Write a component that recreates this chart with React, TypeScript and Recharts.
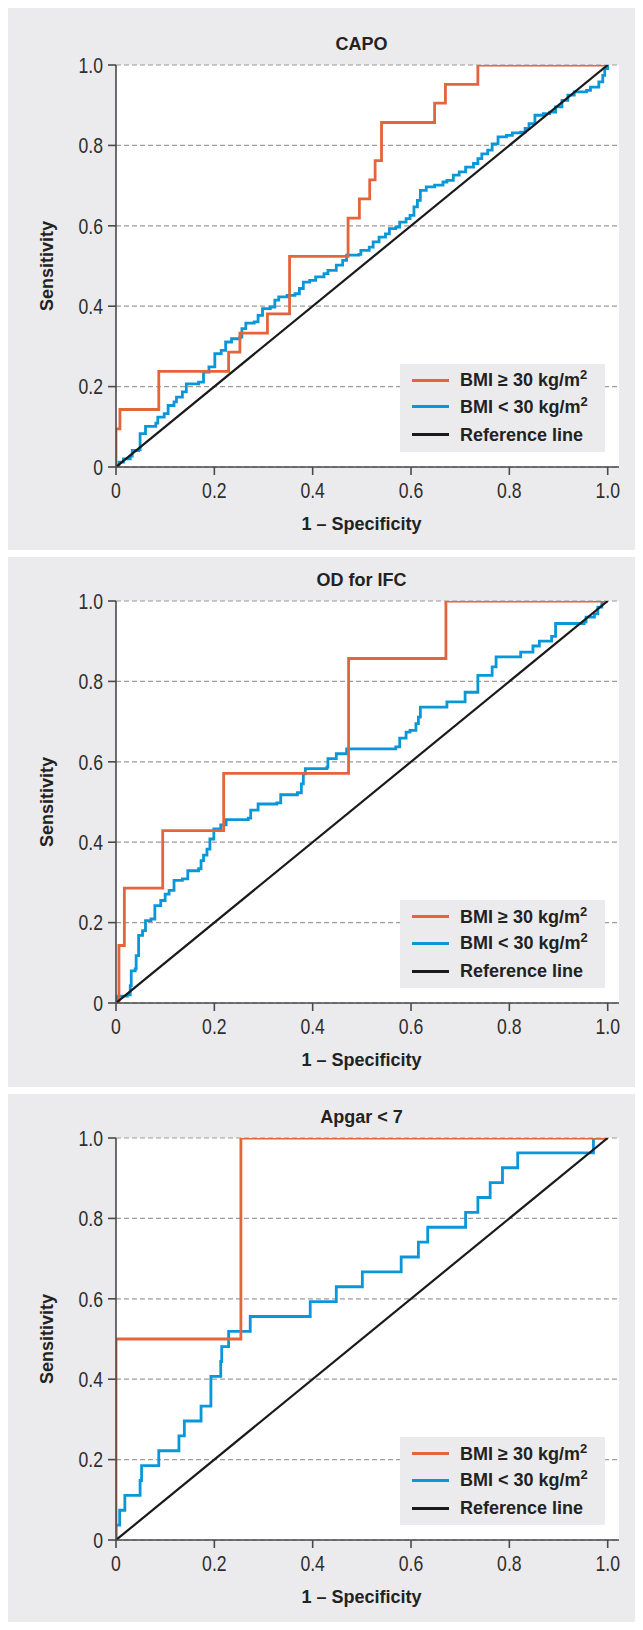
import React from 'react';
import { LineChart, Line, XAxis, YAxis, CartesianGrid } from 'recharts';

// ---------- data ----------
const axisTicks = [0, 0.2, 0.4, 0.6, 0.8, 1.0];
const seriesNames = ['BMI ≥ 30 kg/m²', 'BMI < 30 kg/m²', 'Reference line'];
const panelTitles = ['CAPO', 'OD for IFC', 'Apgar < 7'];
const xAxisTitle = '1 – Specificity';
const yAxisTitle = 'Sensitivity';

const refFpr = [0, 1];
const refTpr = [0, 1];

// CAPO
const capoHighFpr = [0, 0, 0.008, 0.087, 0.229, 0.252, 0.308, 0.353, 0.472, 0.495, 0.516, 0.527, 0.54, 0.648, 0.67, 0.736, 1];
const capoHighTpr = [0, 0.095, 0.143, 0.238, 0.286, 0.333, 0.381, 0.524, 0.619, 0.667, 0.714, 0.762, 0.857, 0.905, 0.952, 1, 1];
const capoLowFpr = [0, 0.006, 0.015, 0.029, 0.033, 0.046, 0.049, 0.06, 0.081, 0.085, 0.098, 0.106, 0.118, 0.123, 0.135, 0.143, 0.168, 0.178, 0.189, 0.201, 0.214, 0.223, 0.235, 0.252, 0.256, 0.264, 0.281, 0.289, 0.298, 0.314, 0.323, 0.331, 0.348, 0.364, 0.373, 0.381, 0.394, 0.406, 0.423, 0.431, 0.448, 0.461, 0.469, 0.494, 0.498, 0.515, 0.523, 0.535, 0.548, 0.556, 0.569, 0.577, 0.59, 0.598, 0.606, 0.613, 0.619, 0.631, 0.648, 0.665, 0.673, 0.686, 0.698, 0.711, 0.727, 0.736, 0.744, 0.756, 0.765, 0.777, 0.794, 0.806, 0.823, 0.832, 0.84, 0.852, 0.869, 0.882, 0.894, 0.907, 0.919, 0.932, 0.957, 0.965, 0.982, 0.99, 0.994, 1];
const capoLowTpr = [0, 0.012, 0.02, 0.027, 0.041, 0.043, 0.083, 0.101, 0.109, 0.124, 0.133, 0.153, 0.162, 0.174, 0.187, 0.207, 0.211, 0.236, 0.249, 0.282, 0.29, 0.311, 0.319, 0.323, 0.344, 0.358, 0.361, 0.377, 0.394, 0.398, 0.415, 0.423, 0.427, 0.431, 0.444, 0.46, 0.464, 0.473, 0.481, 0.489, 0.502, 0.514, 0.527, 0.529, 0.539, 0.547, 0.56, 0.572, 0.58, 0.593, 0.597, 0.609, 0.618, 0.626, 0.647, 0.663, 0.688, 0.697, 0.701, 0.709, 0.713, 0.726, 0.734, 0.746, 0.755, 0.767, 0.779, 0.788, 0.804, 0.821, 0.825, 0.831, 0.833, 0.842, 0.854, 0.875, 0.879, 0.883, 0.896, 0.912, 0.925, 0.933, 0.937, 0.945, 0.958, 0.974, 0.991, 1];

// OD for IFC
const odHighFpr = [0, 0.006, 0.017, 0.095, 0.219, 0.473, 0.671, 1];
const odHighTpr = [0, 0.143, 0.286, 0.429, 0.571, 0.857, 1, 1];
const odLowFpr = [0, 0.003, 0.023, 0.029, 0.031, 0.039, 0.041, 0.046, 0.054, 0.06, 0.071, 0.079, 0.091, 0.1, 0.108, 0.118, 0.135, 0.146, 0.168, 0.173, 0.178, 0.185, 0.191, 0.199, 0.213, 0.224, 0.269, 0.274, 0.289, 0.327, 0.335, 0.369, 0.377, 0.381, 0.385, 0.429, 0.431, 0.448, 0.469, 0.569, 0.577, 0.59, 0.598, 0.61, 0.615, 0.619, 0.673, 0.71, 0.736, 0.765, 0.773, 0.823, 0.848, 0.861, 0.886, 0.894, 0.952, 0.956, 0.973, 0.98, 0.988, 1];
const odLowTpr = [0, 0.017, 0.02, 0.043, 0.08, 0.085, 0.118, 0.168, 0.18, 0.205, 0.209, 0.242, 0.255, 0.271, 0.28, 0.305, 0.309, 0.329, 0.334, 0.354, 0.368, 0.383, 0.408, 0.433, 0.443, 0.456, 0.46, 0.48, 0.495, 0.498, 0.518, 0.523, 0.545, 0.57, 0.583, 0.587, 0.608, 0.62, 0.632, 0.637, 0.659, 0.674, 0.678, 0.695, 0.711, 0.736, 0.749, 0.773, 0.815, 0.836, 0.861, 0.873, 0.888, 0.9, 0.912, 0.944, 0.948, 0.96, 0.968, 0.985, 1, 1];

// Apgar < 7
const apgarHighFpr = [0, 0, 0.254, 1];
const apgarHighTpr = [0, 0.5, 1, 1];
const apgarLowFpr = [0, 0, 0.0075, 0.018, 0.049, 0.052, 0.087, 0.128, 0.139, 0.173, 0.193, 0.213, 0.215, 0.229, 0.273, 0.395, 0.448, 0.501, 0.58, 0.615, 0.634, 0.711, 0.736, 0.761, 0.786, 0.817, 0.971, 1];
const apgarLowTpr = [0, 0.037, 0.074, 0.111, 0.148, 0.185, 0.222, 0.259, 0.296, 0.333, 0.407, 0.444, 0.481, 0.519, 0.556, 0.593, 0.63, 0.667, 0.704, 0.741, 0.778, 0.815, 0.852, 0.889, 0.926, 0.963, 1, 1];

// ---------- styles ----------
const ORANGE = '#e4653c';
const BLUE = '#0a97d9';
const BLACK = '#1a1a1a';
const PANEL_BG = '#ebebed';
const AXIS = '#4a4a4a';
const FONT_TICK = "'Liberation Sans', Arial, sans-serif";
const FONT_BOLD = "'Liberation Sans', Arial, sans-serif";

const zip = (xs: number[], ys: number[]) => xs.map((x, i) => ({ x, y: ys[i] }));
const fmt = (v: number) => (v === 0 ? '0' : v.toFixed(1));

type PanelProps = {
  title: string;
  high: { x: number; y: number }[];
  low: { x: number; y: number }[];
  panelTop: number;
  panelHeight: number;
  chartTop: number;
};

const CHART_W = 635;
const CHART_H = 530;
const M_TOP = 44;
const M_BOTTOM = 14;
const X_AXIS_H = 70;

function XTick(props: any) {
  const { x, y, payload } = props;
  return (
    <g transform={`translate(${x},${y})`}>
      <text transform="scale(0.8,1)" textAnchor="middle" dy="0.71em" fontSize={22} fontFamily={FONT_TICK} fill="#2e2e2e">
        {fmt(payload.value)}
      </text>
    </g>
  );
}

function YTick(props: any) {
  const { x, y, payload } = props;
  return (
    <g transform={`translate(${x},${y})`}>
      <text transform="scale(0.8,1)" textAnchor="end" dy="0.355em" fontSize={22} fontFamily={FONT_TICK} fill="#2e2e2e">
        {fmt(payload.value)}
      </text>
    </g>
  );
}

function CenterText({ cx, cy, text, rotate }: { cx: number; cy: number; text: string; rotate?: boolean }) {
  return (
    <div
      style={{
        position: 'absolute',
        left: cx - 150,
        top: cy - 11,
        width: 300,
        height: 22,
        lineHeight: '22px',
        textAlign: 'center',
        fontFamily: FONT_BOLD,
        fontWeight: 'bold',
        fontSize: 18,
        color: '#222',
        transform: rotate ? 'rotate(-90deg)' : undefined,
        whiteSpace: 'nowrap',
      }}
    >
      {text}
    </div>
  );
}

function LegendLabel({ name }: { name: string }) {
  if (name.endsWith('²')) {
    return (
      <>
        {name.slice(0, -1)}
        <span style={{ fontSize: 13, position: 'relative', top: -7 }}>2</span>
      </>
    );
  }
  return <>{name}</>;
}

function LegendBox({ top }: { top: number }) {
  const colors = [ORANGE, BLUE, BLACK];
  const rowY = [16.7, 43.4, 71];
  return (
    <div
      style={{
        position: 'absolute',
        left: 400,
        top,
        width: 205,
        height: 88,
        background: PANEL_BG,
      }}
    >
      {seriesNames.map((name, i) => (
        <React.Fragment key={name}>
          <div
            style={{
              position: 'absolute',
              left: 12,
              top: rowY[i] - 1.5,
              width: 37,
              height: 3,
              background: colors[i],
            }}
          />
          <div
            style={{
              position: 'absolute',
              left: 60,
              top: rowY[i] - 11,
              height: 22,
              lineHeight: '22px',
              fontFamily: FONT_BOLD,
              fontWeight: 'bold',
              fontSize: 18,
              color: '#222',
              whiteSpace: 'nowrap',
            }}
          >
            <LegendLabel name={name} />
          </div>
        </React.Fragment>
      ))}
    </div>
  );
}

function RocPanel({ title, high, low, panelTop, panelHeight, chartTop }: PanelProps) {
  const plotTop = chartTop + M_TOP;
  const plotH = CHART_H - M_TOP - M_BOTTOM - X_AXIS_H;
  const plotBottom = plotTop + plotH;
  const midX = 361.5;
  return (
    <>
      <div
        style={{ position: 'absolute', left: 8, top: panelTop, width: 635, height: panelHeight, background: PANEL_BG }}
      />
      <div style={{ position: 'absolute', left: 8, top: chartTop }}>
        <LineChart width={CHART_W} height={CHART_H} margin={{ top: M_TOP, right: 24, left: 0, bottom: M_BOTTOM }}>
          <CartesianGrid vertical={false} stroke="#9c9c9c" strokeWidth={1.2} strokeDasharray="5 3" fill="#ffffff" />
          <XAxis
            type="number"
            dataKey="x"
            domain={[0, 1.023]}
            ticks={axisTicks}
            height={X_AXIS_H}
            tickSize={8}
            tickMargin={7}
            axisLine={{ stroke: AXIS, strokeWidth: 1.6 }}
            tickLine={{ stroke: AXIS, strokeWidth: 1.6 }}
            tick={<XTick />}
            allowDataOverflow
          />
          <YAxis
            type="number"
            dataKey="y"
            domain={[0, 1]}
            ticks={axisTicks}
            width={108}
            tickSize={8}
            tickMargin={5}
            axisLine={{ stroke: AXIS, strokeWidth: 1.6 }}
            tickLine={{ stroke: AXIS, strokeWidth: 1.6 }}
            tick={<YTick />}
            allowDataOverflow
          />
          <Line
            data={low}
            dataKey="y"
            type="stepAfter"
            stroke={BLUE}
            strokeWidth={2.8}
            dot={false}
            activeDot={false}
            isAnimationActive={false}
          />
          <Line
            data={high}
            dataKey="y"
            type="stepAfter"
            stroke={ORANGE}
            strokeWidth={2.8}
            dot={false}
            activeDot={false}
            isAnimationActive={false}
          />
          <Line
            data={zip(refFpr, refTpr)}
            dataKey="y"
            type="linear"
            stroke={BLACK}
            strokeWidth={2.2}
            dot={false}
            activeDot={false}
            isAnimationActive={false}
          />
        </LineChart>
      </div>
      <CenterText cx={midX} cy={plotTop - 21} text={title} />
      <CenterText cx={47} cy={(plotTop + plotBottom) / 2} text={yAxisTitle} rotate />
      <CenterText cx={midX} cy={plotBottom + 57} text={xAxisTitle} />
      <LegendBox top={plotBottom - 15 - 88} />
    </>
  );
}

export default function App() {
  return (
    <div style={{ position: 'relative', width: 643, height: 1630, margin: -8, background: '#fff', overflow: 'hidden' }}>
      <RocPanel
        title={panelTitles[0]}
        high={zip(capoHighFpr, capoHighTpr)}
        low={zip(capoLowFpr, capoLowTpr)}
        panelTop={6}
        panelHeight={544}
        chartTop={20.5}
      />
      <RocPanel
        title={panelTitles[1]}
        high={zip(odHighFpr, odHighTpr)}
        low={zip(odLowFpr, odLowTpr)}
        panelTop={557}
        panelHeight={530}
        chartTop={557}
      />
      <RocPanel
        title={panelTitles[2]}
        high={zip(apgarHighFpr, apgarHighTpr)}
        low={zip(apgarLowFpr, apgarLowTpr)}
        panelTop={1094}
        panelHeight={536}
        chartTop={1094}
      />
    </div>
  );
}
